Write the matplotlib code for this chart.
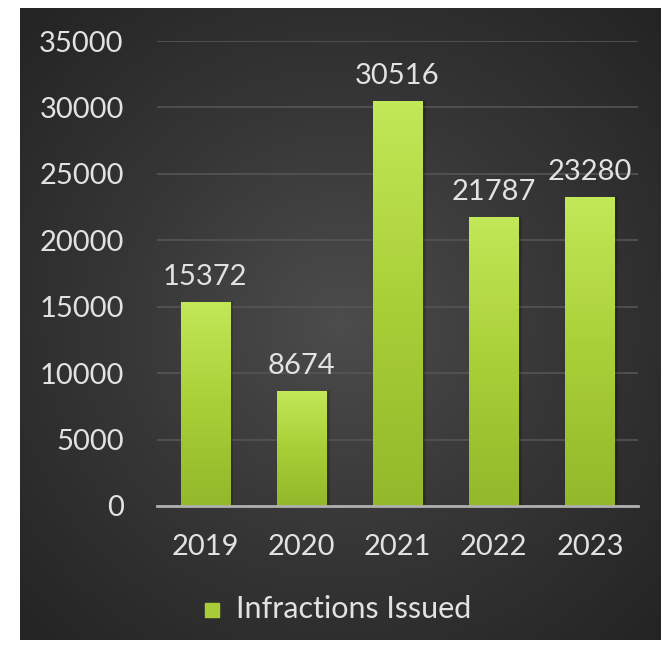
import numpy as np
from matplotlib import pyplot as plt
from matplotlib.colors import LinearSegmentedColormap
from matplotlib.patches import Rectangle

years = ['2019', '2020', '2021', '2022', '2023']
infractions = [15372, 8674, 30516, 21787, 23280]
series_name = 'Infractions Issued'

W, H = 666, 649
plt.rcParams['font.family'] = ['Lato', 'DejaVu Sans']
txt = '#e2e2e2'
fs = 21

fig = plt.figure(figsize=(W / 100, H / 100), dpi=100, facecolor='white')

# dark radial background panel
bx0, by0, bx1, by1 = 20, 8, 661, 640
bg = fig.add_axes([bx0 / W, 1 - by1 / H, (bx1 - bx0) / W, (by1 - by0) / H])
yy, xx = np.mgrid[-1:1:300j, -1:1:300j]
r = np.sqrt(xx ** 2 + yy ** 2)
shade = np.clip(1 - r / 1.4, 0, 1)
bg_cmap = LinearSegmentedColormap.from_list('bg', ['#242424', '#363636', '#4c4c4c'])
bg.imshow(shade, cmap=bg_cmap, vmin=0, vmax=1, aspect='auto',
          extent=[0, 1, 0, 1], interpolation='bicubic')
bg.set_axis_off()

# plot area
px0, px1, py0, py1 = 157, 638, 41, 506
ax = fig.add_axes([px0 / W, 1 - py1 / H, (px1 - px0) / W, (py1 - py0) / H])
ax.patch.set_alpha(0)
x = np.arange(len(years))
bars = ax.bar(x, infractions, width=0.51, color='#a8cc38', zorder=3)

bar_cmap = LinearSegmentedColormap.from_list('g', ['#93b82a', '#a9cf38', '#c3e858'])
grad = np.linspace(0, 1, 256).reshape(-1, 1)
for b in bars:
    bx, by = b.get_x(), b.get_y()
    bw, bh = b.get_width(), b.get_height()
    im = ax.imshow(grad, cmap=bar_cmap, aspect='auto', origin='lower',
                   extent=[bx, bx + bw, by, by + bh], zorder=4)
    im.set_clip_path(b)
    # soft dark shadow on the right side
    ax.add_patch(Rectangle((bx + bw, 0), 0.04, bh, color='black', alpha=0.18,
                           zorder=2, lw=0))

for xi, v in zip(x, infractions):
    ax.text(xi, v + 900, str(v), ha='center', va='bottom', color=txt, fontsize=fs)

ax.set_xlim(-0.5, len(years) - 0.5)
ax.set_ylim(0, 35000)
ax.set_yticks(np.arange(0, 35001, 5000))
ax.set_xticks(x)
ax.set_xticklabels(years)
ax.tick_params(axis='both', length=0, colors=txt, labelsize=fs)
ax.tick_params(axis='y', pad=24)
ax.tick_params(axis='x', pad=20)
ax.grid(axis='y', color='#555555', linewidth=1.2, zorder=0)
for s in ['left', 'right', 'top']:
    ax.spines[s].set_visible(False)
ax.spines['bottom'].set_color('#b0b0b0')
ax.spines['bottom'].set_linewidth(2)
ax.spines['bottom'].set_zorder(5)

# legend
fig.patches.append(Rectangle((205 / W, 1 - 617 / H), 14 / W, 14 / H,
                             transform=fig.transFigure, color='#a8cc38'))
fig.text(236 / W, 1 - 609 / H, series_name, color=txt, fontsize=fs + 1,
         ha='left', va='center')

fig.savefig('out.png', dpi=100, facecolor='white')
